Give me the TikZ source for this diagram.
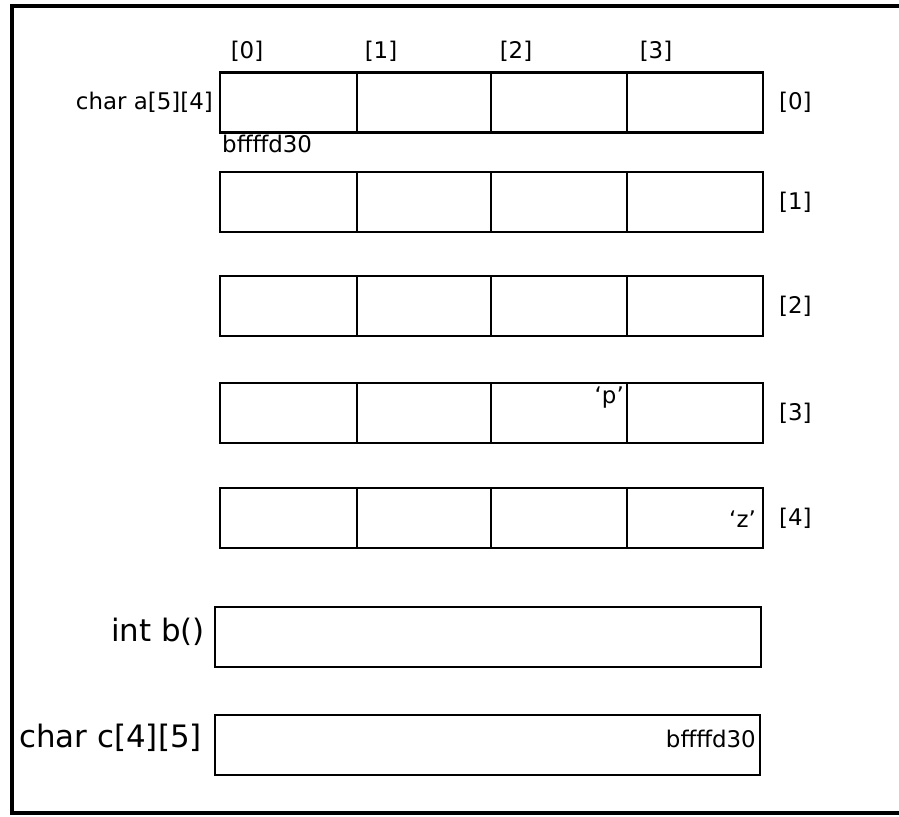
\documentclass[tikz,border=0pt]{standalone}
\usepackage{fontspec}
\newfontfamily\lblfont{DejaVu Sans}
\begin{document}
\begin{tikzpicture}[x=1bp,y=-1bp,
  cellbox/.style={draw,line width=2.3bp,rectangle,minimum height=60bp,inner sep=0,outer sep=0},
  small/.style={font=\lblfont\fontsize{23}{26}\selectfont,inner sep=0},
  big/.style={font=\lblfont\fontsize{31}{35}\selectfont,inner sep=0}]
\useasboundingbox (0,0) rectangle (899,817);
\draw[line width=3.5bp] (899,6) -- (12,6) -- (12,813) -- (899,813);
% column boundaries
\def\xa{220}\def\xb{357}\def\xc{491}\def\xd{627}\def\xe{763}
\foreach \r/\yc in {0/102.5,1/202,2/306,3/413,4/518}{
  \node[cellbox,minimum width=137bp] (c\r0) at ({(\xa+\xb)/2},\yc) {};
  \node[cellbox,minimum width=134bp] (c\r1) at ({(\xb+\xc)/2},\yc) {};
  \node[cellbox,minimum width=136bp] (c\r2) at ({(\xc+\xd)/2},\yc) {};
  \node[cellbox,minimum width=136bp] (c\r3) at ({(\xd+\xe)/2},\yc) {};
  \node[small,anchor=west,xshift=16bp] (rl\r) at (c\r3.east) {[\r]};
}
\foreach \j/\dx in {0/27,1/24,2/25,3/29}{
  \node[small,xshift=\dx bp,yshift=21bp] (cl\j) at (c0\j.north west) {[\j]};
}
\node[small,anchor=east,xshift=-7bp] (alabel) at (c00.west) {char a[5][4]};
\node[small,anchor=north west,xshift=2bp,yshift=-2bp] (aaddr) at (c00.south west) {bffffd30};
\node[small,anchor=base east,xshift=-3bp] (pval) at (c32.east |- 0,403) {‘p’};
\node[small,anchor=base east,xshift=-7bp] (zval) at (c43.east |- 0,527) {‘z’};
% int b()
\node[cellbox,minimum width=546bp] (bbox) at (488,637) {};
\node[big,anchor=base east] (blabel) at (205,641) {int b()};
% char c[4][5]
\node[cellbox,minimum width=545bp] (cbox) at (487.5,745) {};
\node[big,anchor=base east] (clabel) at (202,747) {char c[4][5]};
\node[small,anchor=base east,xshift=-4bp] (caddr) at (cbox.east |- 0,747) {bffffd30};
\end{tikzpicture}
\end{document}
